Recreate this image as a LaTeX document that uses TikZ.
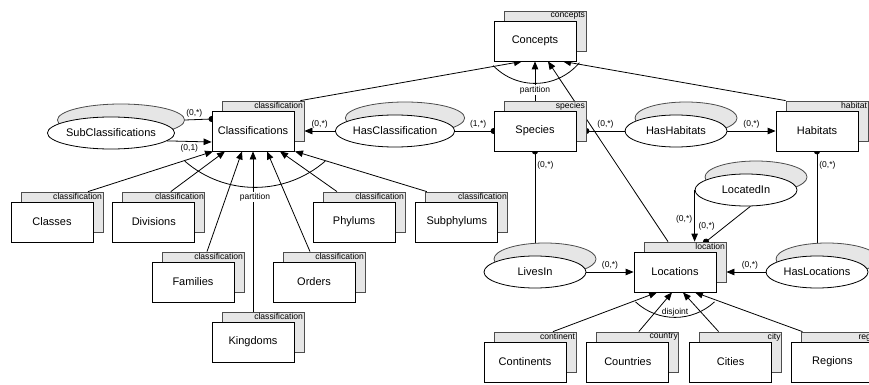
\documentclass[tikz,border=0pt]{standalone}
\usepackage{fontspec}
\setmainfont{Liberation Sans}
\usepackage{tikz}
\usetikzlibrary{arrows.meta,positioning,shapes.geometric,shadows,backgrounds,calc}
\definecolor{ink}{HTML}{000000}
\definecolor{shade}{HTML}{E6E6E6}
\definecolor{shadeline}{HTML}{4D4D4D}
\tikzset{
  entity/.style  ={draw=ink,line width=0.8pt,fill=white,minimum width=82pt,minimum height=40pt,
                   inner sep=0pt,font=\fontsize{11}{13}\selectfont,
                   copy shadow={shadow xshift=10pt,shadow yshift=10pt,fill=shade,draw=shadeline},
                   label={[tagtext]north east:#1}},
  tagtext/.style ={anchor=north east,xshift=10pt,yshift=10pt,inner sep=1.2pt,
                   font=\fontsize{8.6}{9}\selectfont},
  rel/.style     ={ellipse,draw=ink,line width=0.8pt,fill=white,minimum width=102pt,
                   minimum height=32pt,inner sep=0pt,font=\fontsize{11}{13}\selectfont,
                   copy shadow={shadow xshift=10pt,shadow yshift=13pt,fill=shade,draw=shadeline}},
  cardlbl/.style ={font=\fontsize{8.5}{10}\selectfont,inner sep=2pt},
  catlbl/.style  ={font=\fontsize{8.5}{10}\selectfont,fill=white,inner sep=1pt},
  link/.style    ={line width=0.8pt,draw=ink},
  isarrow/.style ={-{Triangle[length=8pt,width=6.5pt]},line width=0.8pt,draw=ink},
  dotfrom/.style ={{Circle[length=6pt]}-,shorten <=-3pt,line width=0.8pt,draw=ink},
  dotto/.style   ={-{Circle[length=6pt]},shorten >=-3pt,line width=0.8pt,draw=ink}
}
\begin{document}
\begin{tikzpicture}[x=1pt,y=-1pt,every node/.style={font=\fontsize{11}{13}\selectfont}]
  \useasboundingbox (0,0) rectangle (869,385);
  \node[entity=concepts]       (concepts)  at (535,41)  {Concepts};
  \node[entity=classification] (classif)   at (253,131) {Classifications};
  \node[entity=species]        (species)   at (535,131) {Species};
  \node[entity=habitat]        (habitats)  at (817,131) {Habitats};
  \node[entity=location]       (locations) at (675,272) {Locations};
  \node[entity=classification] (classes)   at (52,222)  {Classes};
  \node[entity=classification,right=19pt of classes] (divisions) {Divisions};
  \node[entity=classification] (phylums)   at (354,222) {Phylums};
  \node[entity=classification,right=20pt of phylums] (subphylums) {Subphylums};
  \node[entity=classification] (families)  at (193,282) {Families};
  \node[entity=classification] (orders)    at (314,282) {Orders};
  \node[entity=classification] (kingdoms)  at (253,342) {Kingdoms};
  \node[entity=continent]      (continents) at (525,362) {Continents};
  \node[entity=country,right=20pt of continents] (countries) {Countries};
  \node[entity=city,right=20pt of countries] (cities) {Cities};
  \node[entity=region,right=19pt of cities] (regions) {Regions};

  \node[rel] (subclassif)   at (111,133) {SubClassifications};
  \node[rel] (hasclassif)   at (395,131) {HasClassification};
  \node[rel] (hashabitats)  at (676,131) {HasHabitats};
  \node[rel] (locatedin)    at (746,190) {LocatedIn};
  \node[rel] (haslocations) at (817,272) {HasLocations};
  \node[rel] (livesin)      at (535,272) {LivesIn};

  \node[catlbl] (part-c) at (535,90)  {partition};
  \node[catlbl] (part-k) at (255,197) {partition};
  \node[catlbl,fill=none] (disj) at (675,312) {disjoint};

  \coordinate (arc-c) at ([yshift=36pt]concepts.south);
  \coordinate (arc-k) at ([xshift=2pt,yshift=71pt]classif.south);
  \coordinate (arc-l) at ([yshift=33pt]locations.south);
  \coordinate (loc-top) at ([yshift=10pt]locations.north);

  \begin{scope}[on background layer]
    \draw[link] (arc-c) ++(-136:58pt) arc[start angle=-136,end angle=-40,radius=58pt];
    \draw[link] (arc-k) ++(-131:107pt) arc[start angle=-131,end angle=-49,radius=107pt];
    \draw[link] (arc-l) ++(-133:58pt) arc[start angle=-133,end angle=-47,radius=58pt];

    \draw[isarrow] ([shift={(6pt,10pt)}]classif.north east) -- ([xshift=-13pt]concepts.south);
    \draw[isarrow] (species) -- (concepts);
    \draw[isarrow] ([xshift=-7pt]loc-top) -- ([xshift=13pt]concepts.south);
    \draw[isarrow] ([shift={(10pt,10pt)}]habitats.north west) -- ([xshift=28pt]concepts.south);

    \foreach \n/\dx/\ex in {classes/36/-40,divisions/17/-28,families/14/-11,kingdoms/0/0,
                            orders/-4/14,phylums/-17/27,subphylums/-30/42}
      \draw[isarrow] ([shift={(\dx pt,10pt)}]\n.north) -- ([xshift=\ex pt]classif.south);
    \foreach \n/\dx/\ex in {continents/28/-18,countries/11/-3,cities/-12/8,regions/-30/20}
      \draw[isarrow] ([shift={(\dx pt,10pt)}]\n.north) -- ([xshift=\ex pt]locations.south);

    \draw[dotto] ([shift={(10pt,13pt)}]subclassif.east) -- node[cardlbl,above,pos=0.35]{(0,*)} ([yshift=12pt]classif.west);
    \draw[isarrow] (subclassif.-8) -- node[cardlbl,below]{(0,1)} ([yshift=-11pt]classif.west);
    \draw[isarrow] (hasclassif) -- node[cardlbl,above]{(0,*)} ([xshift=10pt]classif.east);
    \draw[dotto] (hasclassif) -- node[cardlbl,above,pos=0.6]{(1,*)} (species);
    \draw[dotfrom] ([xshift=10pt]species.east) -- node[cardlbl,above]{(0,*)} (hashabitats);
    \draw[isarrow] (hashabitats) -- node[cardlbl,above]{(0,*)} (habitats);
    \draw[dotfrom] (habitats) -- node[cardlbl,right,pos=0.13]{(0,*)} (haslocations);
    \draw[dotfrom] (species) -- node[cardlbl,right,pos=0.13]{(0,*)} (livesin);
    \draw[isarrow] (livesin) -- node[cardlbl,above]{(0,*)} (locations);
    \draw[isarrow] (haslocations) -- node[cardlbl,above,pos=0.4]{(0,*)} ([xshift=10pt]locations.east);
    \draw[isarrow] (locatedin.west) -- node[cardlbl,left,pos=0.56]{(0,*)} (locatedin.west |- loc-top);
    \draw[dotto] (locatedin.-75) -- node[cardlbl,above left,pos=0.75]{(0,*)} ([xshift=31pt]loc-top);
  \end{scope}
\end{tikzpicture}
\end{document}
